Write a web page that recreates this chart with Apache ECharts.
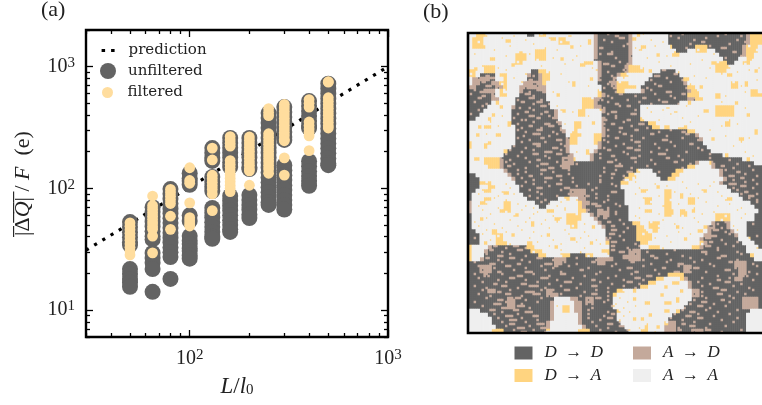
<!DOCTYPE html>
<html><head><meta charset="utf-8">
<style>html,body{margin:0;padding:0;background:#fff}#c{width:762px;height:405px}</style>
<script src="https://cdn.jsdelivr.net/npm/echarts@6/dist/echarts.min.js"></script>
</head><body><div id="c"></div>
<script>
const lengths = [50, 65, 80, 100, 130, 160, 200, 250, 300, 400, 500];
const unfiltered = [
 [52.8,48,43.6,39.7,36.1,34.2,21.7,19.8,18,16.8,15.5],
 [70,64,58.3,53.2,48.5,44.3,40.4,38,29.4,26.8,24.4,21.7,14.1],
 [98.6,90,82,75,68,62,56.8,51.8,47.2,43,39.3,35.8,32.7,29.8,27.2,18],
 [133,121,115,107,60,54,40.5,37,34.8,32,30.5,28,26.4],
 [214,195,178,168,124,113,103,95,69,63,57.5,52.5,48,43.8,40,38.5],
 [259,236,215,196,179,163,150,86.5,79,72,65.6,60,54.7,50,46,43.8],
 [259,236,215,196,179,163,149,144,88,80,73,66.7,61,57],
 [415,378,344,313,285,259,236,215,196,178,162,148,135,123,112,102,93,85,77,73],
 [465,423,385,350,319,290,264,250,155,141,128,117,106,97,88,80,73,67],
 [521,474,431,392,357,325,313,167,152,138,126,115,105],
 [723,658,599,545,496,451,411,374,340,310,282,257,234,213,194,176,160,155]
];
const filtered = [
 [52,48.7,45.6,42.7,40,37.4,35,32.8,30.7,28.3],
 [86.4,72,67.4,63.1,59,55.3,51.8,48.5,46,40.5,29.5],
 [98,91.8,86,80.5,75,59,46],
 [147.6,116,110,76,57.4,54,51,49],
 [214,171,128,120,112,105,98,90,65.5],
 [266,250,235,222,169,158,148,138,129,121,113,106,100,94],
 [264,247,231,216,202,189,177,165,155,145,139,106],
 [452,420,395,281,263,246,230,215,201,188,176,165,154,144,133],
 [489,458,428,400,375,351,328,307,288,270,252,246,178,128.5],
 [536,500,465,351,328,307,288,270,204],
 [752,745,555,519,486,455,426,399,373,349,327,313]
];
const predictionX = [30, 1000];
const predictionY = [31, 1000];
const xMajor = [100, 1000];
const xMinor = [30,40,50,60,70,80,90,200,300,400,500,600,700,800,900];
const yMajor = [10, 100, 1000];
const yMinor = [6,7,8,9,20,30,40,50,60,70,80,90,200,300,400,500,600,700,800,900,2000];

const mapNames = {d:'D → D', t:'A → D', y:'D → A', w:'A → A'};
const mapColors = {d:'#636363', t:'#C4A99B', y:'#FFD480', w:'#EFEFEF'};
const mapRows = [
"0w2y5w15d17w18y20w32t33d41t42w43y44w51d71t72y|9 23 37 51:2 71 75:2 89 103 109 127 131 139",
"0w1y4w23y25w32t33d41t42y43w51d71t72y|17 29 41 69 77:3 93 107 115 121 137",
"0w1y4w23y26w32t33d41t42w51d71t72y|5 33 47 62 73 81 99 113 119:2 133 141",
"0w1y4w32t33d41t42w52d58y61d70t71y74w|21 39 57 67:2 79 85 95 111 123 129:3 143",
"0w17y20w32t33d41t42w53d56w58y61w63d70t71y74w|13 27 45 73 87:2 105 117 135:2 147",
"0w12y15w17y20w32t33d41t42w52y54w64d70t71y73w|3 19 31 55 67 83 71:3 101 125 139",
"0w12y15w17y20w32t33d41t42w65d69w71y73w|11 35 43 53 75 64:2 91 119 131 145",
"0w12y14w30y32w33t34d41t42w63y66d68w70y72w|25 49 59 69:3 77 81 97 113 127 141",
"0w4y7w33t34d40t41y44w63y67w|7 15 37 63 73:2 89 103 123 133 148",
"0y2w4y7w16d18y20w33t34d40t41y45w49d53w63y66w|19 41 65 71 79:2 107 99:2 137 143",
"0y2w3d7w8y10w15t16d18t19y21w33t34d38t39y41w47d54w|1 9:2 29 33 47 73 81 95:3 105:2 115 129",
"0w1t7w9y10w15d18t19y21w33t34d37t38w46d55w|5 11:3 23 31:2 67 75 79 93 101 109:2 121 147",
"0w1t3d6t8y10w14t19y20w33d36t38y41w45d55t56w67y69w|7:2 17 27 33:2 51 71:2 77 95 103 113 135",
"0t2d7t9y10w13t20w34d37t38y43w44d56y58w67y69w|9:3 15 35 29 61 69 73:2 91 97:2 111 139",
"0d4t7w8y9w13t14d19t20w33y34d38y40w44t45d56t57y59w72y74w|3 6:2 19 31 35:3 43 67 75 93 101:3 117 141",
"0d6t7w8y10w13d20w33y34t35d56y59w72y75w|1 7:2 13 33 29:3 71 77:2 85 95 103 109:2 131",
"0d6t8w12d20w29y32t34d56t58y60w|5:2 25 31:3 37 63 67:2 73 81 89:2 97 105 115",
"0d6w7y8w12d21w29y32t33d54w|3 9 27:2 33 35:3 41 71 75:2 87 93 99:3 107 129",
"0d5w8y9w11t12d21w29y32t34d44w63y68w|7 26 37:3 31 45 69 81:2 91 77 101:2 111 141",
"0d4w11d22t23w28y30w34t35d44w63y68w|5 29:2 33 39:2 47 53 67 73:3 85 93 99 105:2 121",
"0d3w6y7w11d22t23w28y30w34d44w63y68w|1 17 25 31:3 37 41 71 75 83:3 61 103 117",
"0d2w5y6w11d23w34t35d44y45w|23 27 35:2 29 43:3 70 75 81:2 89 97 109 133",
"0w11d23t24w27y29w34t35d46y48w|11 25 33 39:3 45 49 69 73:2 79 87:3 113 137",
"0w4y6w12d24w27y29w34t35d47y49w|15 27 31:2 37 41:3 47 69 77:2 83 91 101 107:3 129",
"0w12d24t25w27y28w34t35d56y58w|25 29 35:3 43 47 53 71 77 85:2 97 103 109:2 123",
"0w2y3w12d25w26y28w32y34t35d58t59w|9 28 33:4 41 45 71 79:2 83 93:2 101 111:2 131",
"0w12d25t26y28w32y34d59t60w|25 31 37:2 45:3 51 69 75:2 83 89 99:3 109 117 143",
"0y1w5y6w12d25t26y28w32y33t34d60w|27 33:4 39 47 71 79 85:3 95 103 113:2 139",
"0y1w11d25t26w33t34d61w|23 29 35:2 43:3 49 69 75 81:3 87 97 105 117 135",
"0w10d25t26w32t33d62w|21 27 33 39:4 47 55 71:2 79 85:3 93 101 111 119 141",
"0w9d26t27w31t32d65w|19 25 33:3 39 45:3 51 67 73:2 81 87 97:4 107 123 145",
"0w4y8t9d24t27w31t32d70w|17 21 29 35:2 41 49:2 67 75 83:3 93 101:2 109 123 133",
"0w4y8t9d24t27d58t59w62t63d73w|19 23 31 37:4 45 55 71:3 77 85 95 105:2 113 125 137",
"0w5y8t9d24t26d56y58w62t63d|20:2 29 35 41:3 47 69 75:4 83 91 109 129:2 135 143",
"0w9t10d43y44w47d53y55w64t65d|25 29 37:3 43 51 69 75 81:3 87 97 131 137:2 145",
"0d2w10t11d41y43w48d52y54w64t65d|25 31:2 37 45:3 51 67 73:2 79 85 133:3 141 147",
"0d3w11t12d40y42w49d51y53w65t66d|27 33 39:4 47 53 67 73 79:3 85 135 139:2 145",
"0d3y6w12d39y41w64t65d|9 19 29 33 39 45:3 53 61 67 73 85 95 109 117 125 133:4 141 147",
"0d3w5y7w13d39w66d|11 21 27 35:3 41 49:3 55 65 75 87 101 111 123 135 139:3 145",
"0d2w4y6w13d26t30d40w50y52w67d|7 17 31 35 47 53 63 73:3 91 105 119 127 137 141:2",
"0d1w14d26t30d40w50y52w69d|5 15 23 31 37 45 51 59:3 65 71 85 97 113 129 139 143:3 147",
"0d1w4y6w15d23w28t30d40w45y47w50y52w56y58w70d|13 19 35 39 49:3 55 65 71 89 103 117 131 143 147",
"0t1w3y5w9y11w17d21w28y29t31d40w45y47w50y52w56y58w72d|9 25 37 41 47 63:3 69 75 93 107 121 133 147",
"0t1w9y11w18d20w28y29t30d41w50y52w73d|5 15 29 33 45 49 65:3 71 77 87 99 115 127 139",
"0t1w9y11w20y22w28y30t31d33t36d41w45y47w50y52w54y56w74d|7 19 27 35 49 61 69:2 75 91 103 111 125 137",
"0d1w25y29w31t32d33t36d41w50y52w54y56w63y67w73d|11 23 33 43 55 67:2 75 85 97 109 119 131 141",
"0d1w25y28w32t33d41w63y67w73d|9 21 31 39 47 57 69:2 77 87 99 115 129 139",
"0d1w25y28w33t34d42y44w46y49w62t63d66t67w71d|3 13 29 37 45 59 71:2 79 93 105 117 127 131 145",
"0d1w26y28w34t35d43y45w46y49w60y61t63d66t67w71d|5 17 25 41 53 63 73:2 81 97 109 123:2 129 135",
"0d2w35d43y46w61t62d67t68w71d|9 19 27 33 49 59 73:3 79 91 107 125:3 131 137",
"0d3w7y9w35d43y47w60t62d68t69w71d|7 15 23 37 51 61 72:3 77 89 101 113 124:3 133 147",
"0d3w7y9w35t36d43y47w59t60d69w72d|3 11 31 43 57 65 71:2 79 95 111 121:3 129 143",
"0d3w7y10w35y36d44y46w59y60t61d70w73d|9 21 35 47 55 67 73:3 85 103 119 123:2 131 137",
"0y1w5t6d15y17w36d44w46y49w57y59t60d71w74d|13:2 19 23:3 29 41 59 73:2 81 87 99 121:3 127 135 147",
"0y1w4t5d16y19w34y36d41t44d71w|11:2 17 25:3 33 47 57 73:2 77:3 83 91 105 119:3 127 137",
"0y1w4d18y20w24y26d30y32w36d41t44d72y73w|9 15:3 21 29 47 61 71 79:3 85 93:2 101 109 121 129:3 139",
"0y1w3t4d22t25d33t37d41t44d73w|9:2 15 21:3 27 35:3 43 55 65 79:3 89 95:2 103 113 119 127:2 137",
"0d22t24d33t35d68t71d|3 11:3 17 25:2 31 39:4 49 55 63:2 75 83:2 93 101 107:3 115 123 133:2 145",
"0d3t6d22t23d55t57d68t71d|5 13 19:3 29 37 43:3 51 61 73 81:3 89 99:2 107 115:3 125 137 147",
"0d3t6d55t57d69t71d|7 15:2 23 29:4 39 47 57:2 67 77 85:2 95 105:3 113 121 131:3 143",
"0d4t5d51y55d69t71d|3 9:2 17 25:3 33 41 47:3 59 65 75 83 91:3 97 127 135 141:2 147",
"0d48y50w54y55t56d68t70d|5 15 21:3 29 37:4 45 53 63:2 71 79 85:3 89 119 127:2 133 145",
"0d46y48w52y54w56t57d|7 13:2 19 27:3 35 41 49:4 57 67 73 81:3 87 117 123 131:3 139",
"0d44y46w50y51w56t57d|3 9 17:3 25 31:5 39 47 55 63:3 71 79 85 119 125:3 135 143",
"0d5t7d20t22d38y40w57t59d|7 15:2 21 29:5 37 43 49:3 59 65 71 79 119 129:3 137 145",
"0d20t23d37y38w57t59d|5 11 19:3 27 33:4 41 47 57 63:3 71 115 119 127:3 133 141",
"0d10t12d22w26t28d30t32d37w42y43w57d70t74d|9 15:3 23:4 29 37 61 65:3 71 77 115 121 129:2 135",
"0d10t12d21t22w27t29d30t32d37w50y52w56d70t74d|3 13:4 19 27 35 61:2 69 75 81 113 119:3 125 133",
"0d10t12d21t22w24y26w27t29d37w55d70t74d|7 17:3 25:4 31 45 63 73:2 79 85 110 117:3 123 131",
"0w3d21t22w24y26w27t29d38y39w53y54d72w|11:3 17 23:3 29:4 61 71 77 82 109 113:3 121 127 137",
"0w5d21t22w28t29d38w52d71w|13 19:4 25 33:3 61 69 73:2 79 105 111:3 117 125 133",
"0w6d21t22w28t29d38w44y45w51d71w|15 21:4 27 35 61 67 71:3 77 103 109 117:3 129 137",
"0w6d20t21w28t29d39w50y51t53d71w|17 21:3 29 35:4 63 71:3 77 91 101 109:2 115 123 135",
"0w7d20t21w29t30d40w45y46w50t53d71w|19 25:4 31 37:3 65 71 77:3 87 97 107 113:3 121 131",
"0w6y9d20y21w28y31d41w44y46w50t53d57t60d71w|23 27:3 33 39:3 67 75 81:2 95 107:2 115 121:3 129 139"
];
const yellowSpots = [
 [7,6,2,2],[19,3,3,2],[26,9,2,3],[11,12,3,2],[3,17,2,2],[22,15,2,2],
 [5,46,2,2],[14,50,3,2],[8,55,2,3],[18,58,2,2],[3,62,3,2],[12,66,2,2],[20,44,2,3],
 [42,2,3,2],[52,6,2,2],[61,3,2,3],[47,12,2,2],[57,15,3,2],[62,22,2,2],[53,24,2,3],[45,30,2,2],[59,32,3,2],[48,38,2,2],[63,44,2,2],[55,50,3,2],[60,58,2,3],[53,62,2,2],[47,50,2,2],
 [88,6,3,2],[96,10,2,2],[103,5,2,3],[92,18,2,2],[124,14,2,2],[110,22,3,2],[118,26,2,2],[132,20,3,2],[141,24,2,3],[126,30,3,3],[136,34,2,2],[146,18,2,2],[112,34,2,2],[120,38,3,2],[131,44,3,3],[142,40,2,2],[110,46,2,2],[124,52,2,2],[138,52,3,2],[146,48,2,3],[117,56,3,2],[131,60,2,2],[123,64,2,2],[142,62,2,2],[100,46,3,2],[106,52,2,2],[96,50,2,2],
 [10,76,2,2],[18,79,3,2],[28,76,2,3],[40,78,2,2],[50,82,2,2],[35,84,3,2],[16,88,3,2],[24,90,2,2],[6,92,2,2],[44,92,3,2],[56,92,2,2],[63,96,2,2],[32,94,2,3],[12,98,3,3],[22,100,2,2],[40,100,2,2],[52,102,3,2],[62,104,2,2],[30,104,3,2],[8,104,2,2],[44,106,2,2],[20,106,3,2],
 [88,78,3,2],[96,76,2,2],[108,80,2,3],[120,78,2,2],[132,82,3,2],[90,88,2,2],[102,88,3,3],[114,88,2,2],[126,90,2,2],[94,98,3,2],[106,96,2,2],[117,98,3,2],[90,102,2,2],[110,102,2,2],
 [84,128,2,2],[90,134,3,2],[98,130,2,2],[106,132,2,3],[92,140,2,2],[100,138,3,2],[84,142,2,2],[108,128,2,2],[96,146,2,2]
];

const SERIF = '"Liberation Serif"';
const FULL = 150;
const cells = [];
const swap = {d:'t', t:'d', w:'y', y:'w'};
mapRows.forEach(function (line) {
  const parts = line.split('|');
  const row = new Array(75).fill('w');
  const toks = [...parts[0].matchAll(/(\d+)([dtyw])/g)];
  toks.forEach(function (t, i) {
    const end = i + 1 < toks.length ? +toks[i + 1][1] : 75;
    for (let c = +t[1]; c < end; c++) row[c] = t[2];
  });
  const a = []; const b = [];
  for (let c = 0; c < 75; c++) { a.push(row[c], row[c]); b.push(row[c], row[c]); }
  parts[1].trim().split(/\s+/).forEach(function (tok, i) {
    const q = tok.split(':');
    const n = +q[0];
    const t = i % 2 ? b : a;
    const width = q.length > 1 ? +q[1] : 1;
    for (let c = n; c < Math.min(FULL, n + width); c++) t[c] = swap[t[c]];
  });
  cells.push(a, b);
});
yellowSpots.forEach(function (s) {
  for (let r = s[1]; r < s[1] + s[3] && r < FULL; r++) {
    for (let c = s[0]; c < s[0] + s[2] && c < FULL; c++) {
      if (cells[r][c] === 'w') cells[r][c] = 'y';
    }
  }
});
const mapData = {d:[], t:[], y:[], w:[]};
cells.forEach(function (row, r) { row.forEach(function (k, c) { mapData[k].push([c, r, 1]); }); });
const idx = Array.from({length: FULL}, function (_, i) { return i; });

function pairs(cols) {
  const out = [];
  cols.forEach(function (vals, i) { vals.forEach(function (v) { out.push([lengths[i], v]); }); });
  return out;
}
function logAxis(vals, len, position, min, max, labels) {
  const o = {
    type: 'log', logBase: 10, min: min, max: max, position: position, gridIndex: 0,
    axisLine: {show: false}, splitLine: {show: false}, minorTick: {show: false},
    axisTick: {show: true, inside: true, length: len, customValues: vals, lineStyle: {color: '#000', width: 1.3}},
    axisLabel: {show: false}
  };
  if (labels) {
    o.axisLabel = {
      show: true, customValues: vals, margin: 11, color: '#222', fontFamily: SERIF,
      formatter: function (v) { return '{b|10}{s|' + Math.round(Math.log10(v)) + '}'; },
      rich: {b: {fontFamily: SERIF, fontSize: 20, color: '#222'},
             s: {fontFamily: SERIF, fontSize: 15, color: '#222', verticalAlign: 'top', padding: [0,0,7,0]}}
    };
  }
  return o;
}
const xA0 = logAxis(xMajor, 7, 'bottom', 30, 1000, true);
xA0.name = '{i|L}{n|/}{i|l}{sub|0}'; xA0.nameLocation = 'middle'; xA0.nameGap = 38;
xA0.nameTextStyle = {rich: {i: {fontFamily: SERIF, fontStyle: 'italic', fontSize: 23, color: '#222'},
  n: {fontFamily: SERIF, fontSize: 23, color: '#222'}, sub: {fontFamily: SERIF, fontSize: 15, color: '#222', padding: [8,0,0,0]}}};
const yA0 = logAxis(yMajor, 7, 'left', 6, 2000, true);
yA0.name = '{n||̅Δ̅}{i|Q̅}{n||̅ / }{i|F}{n|  (e)}';
yA0.nameLocation = 'middle'; yA0.nameGap = 52; yA0.nameRotate = 90;
yA0.nameTextStyle = {rich: {i: {fontFamily: SERIF, fontStyle: 'italic', fontSize: 22, color: '#222'},
  n: {fontFamily: SERIF, fontSize: 22, color: '#222'}}};

function mapSeries(k) {
  return {name: mapNames[k], type: 'heatmap', xAxisIndex: 4, yAxisIndex: 4, data: mapData[k],
    itemStyle: {color: mapColors[k]}, progressive: 0, emphasis: {disabled: true}, silent: true};
}
function mapLegend(names, left) {
  return {data: names, left: left, top: 339.5, orient: 'vertical', itemWidth: 18, itemHeight: 13, itemGap: 5.5,
    icon: 'rect', selectedMode: false,
    formatter: function (n) { return n.replace(' → ', '\u2002→\u2002'); },
    textStyle: {fontFamily: SERIF, fontStyle: 'italic', fontSize: 17, color: '#222', padding: [0,0,0,7]}};
}
const legText = {fontFamily: '"DejaVu Serif"', fontSize: 15, color: '#222'};

const option = {
  animation: false, backgroundColor: '#fff',
  grid: [
    {left: 86, top: 30, width: 302, height: 307, show: true, borderColor: '#000', borderWidth: 2.4, backgroundColor: 'transparent'},
    {left: 468, top: 33, width: 300, height: 300, show: false}
  ],
  xAxis: [xA0, logAxis(xMinor, 4, 'bottom', 30, 1000), logAxis(xMajor, 7, 'top', 30, 1000), logAxis(xMinor, 4, 'top', 30, 1000),
    {type: 'category', gridIndex: 1, data: idx, show: false}],
  yAxis: [yA0, logAxis(yMinor, 4, 'left', 6, 2000), logAxis(yMajor, 7, 'right', 6, 2000), logAxis(yMinor, 4, 'right', 6, 2000),
    {type: 'category', gridIndex: 1, data: idx, show: false, inverse: true}],
  legend: [
    {data: ['prediction'], left: 95, top: 38, itemWidth: 14, itemHeight: 14, selectedMode: false, itemStyle: {opacity: 0}, lineStyle: {color: '#000', width: 3.2, type: [3.5, 6]}, textStyle: Object.assign({padding: [0,0,0,8]}, legText)},
    {data: ['unfiltered'], left: 95, top: 58, itemWidth: 30, itemHeight: 16, icon: 'circle', selectedMode: false, textStyle: legText},
    {data: ['filtered'], left: 97, top: 80, itemWidth: 30, itemHeight: 11, icon: 'circle', selectedMode: false, textStyle: legText},
    mapLegend(['D → D', 'D → A'], 509.5),
    mapLegend(['A → D', 'A → A'], 628)
  ],
  series: [
    {name: 'prediction', type: 'line', data: predictionX.map(function (x, i) { return [x, predictionY[i]]; }),
      symbol: 'none', z: 1, silent: true, itemStyle: {color: '#000'}, lineStyle: {color: '#000', width: 3.2, type: [3.2, 6.4]}},
    {name: 'unfiltered', type: 'scatter', data: pairs(unfiltered), symbol: 'circle', symbolSize: 16, z: 2, silent: true, itemStyle: {color: '#636363', opacity: 1}},
    {name: 'filtered', type: 'scatter', data: pairs(filtered), symbol: 'circle', symbolSize: 10.8, z: 3, silent: true, itemStyle: {color: '#FFDD9E', opacity: 1}},
    mapSeries('d'), mapSeries('t'), mapSeries('y'), mapSeries('w')
  ],
  graphic: [
    {type: 'text', left: 41, top: -1, style: {text: '(a)', fontFamily: SERIF, fontSize: 22, fill: '#222'}},
    {type: 'text', left: 423, top: 1, style: {text: '(b)', fontFamily: SERIF, fontSize: 22, fill: '#222'}},
    {type: 'rect', z: 100, shape: {x: 468, y: 33, width: 300, height: 300}, style: {fill: 'none', stroke: '#000', lineWidth: 2.6}}
  ]
};
echarts.init(document.getElementById('c'), null, {renderer: 'canvas'}).setOption(option);
</script></body></html>
